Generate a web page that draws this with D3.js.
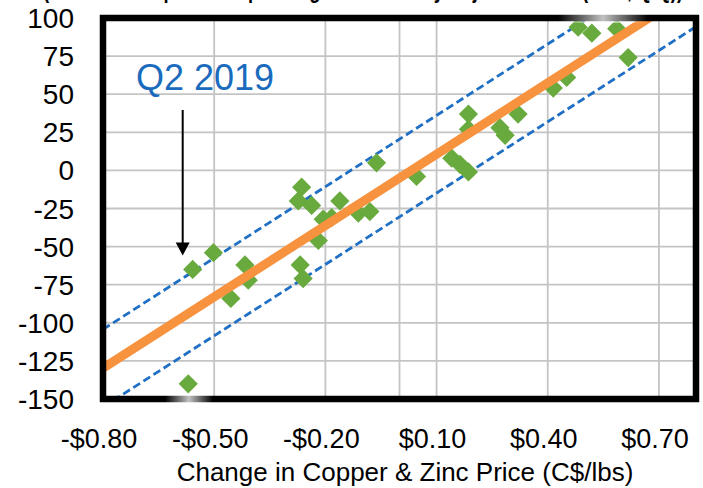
<!DOCTYPE html>
<html><head><meta charset="utf-8">
<script src="https://cdn.jsdelivr.net/npm/d3@7"></script>
<style>
html,body{margin:0;padding:0;background:#fff;}
svg{display:block;font-family:"Liberation Sans",Arial,sans-serif;}
</style></head>
<body>
<svg id="c" width="703" height="488"></svg>
<script>
// ---- data ----
const titleText = "(Estimated Impact on Operating Cash Flow by Adjusted Price (C$M, Q/Q))";
const xLabel = "Change in Copper & Zinc Price (C$/lbs)";
const annotation = "Q2 2019";
const xTicks = [-0.8, -0.5, -0.2, 0.1, 0.4, 0.7];
const yTicks = [-150, -125, -100, -75, -50, -25, 0, 25, 50, 75, 100];
const xGrid = [-0.5, -0.2, 0, 0.1, 0.4, 0.7];
const priceChange = [-0.558, -0.502, -0.417, -0.408, -0.455, -0.570, -0.062, -0.264, -0.273, -0.237,
  -0.161, -0.206, -0.183, -0.111, -0.080, -0.219, -0.268, -0.260, 0.186, 0.186,
  0.271, 0.285, 0.141, 0.163, 0.186, 0.046, 0.320, 0.482, 0.519, 0.586,
  0.617, 0.451, 0.415];
const cashFlowChange = [-65, -54, -62, -72, -84, -140, 5, -11, -20, -23,
  -20, -32, -31, -28, -27, -46, -62, -71, 37, 27,
  28, 23, 8, 4, -1, -4, 37, 94, 90, 93,
  74, 61, 54];
const trendSlope = 156;
const trendIntercept = -5;
const bandOffset = 25.5;
const q2x = -0.558, q2y = -65;

// ---- layout ----
const L = 103, R = 696, T = 18, B = 399;
const svg = d3.select("#c");
const x = d3.scaleLinear().domain([-0.8, 0.8]).range([L, R]);
const y = d3.scaleLinear().domain([-150, 100]).range([B, T]);

const defs = svg.append("defs");
const fade = defs.append("linearGradient").attr("id", "fade");
fade.append("stop").attr("offset", "0%").attr("stop-color", "#fff").attr("stop-opacity", 0);
fade.append("stop").attr("offset", "50%").attr("stop-color", "#fff").attr("stop-opacity", 0.95);
fade.append("stop").attr("offset", "100%").attr("stop-color", "#fff").attr("stop-opacity", 0);

// title (cut off at top, as in the source image)
svg.append("text").attr("x", 43).attr("y", -2).attr("font-weight", "bold")
  .attr("font-size", 24).attr("textLength", 640).attr("lengthAdjust", "spacingAndGlyphs")
  .attr("fill", "#000").text(titleText);

// grid
const g = svg.append("g");
g.selectAll(".gy").data(yTicks.slice(1, -1)).enter().append("line")
  .attr("x1", L).attr("x2", R).attr("y1", d => y(d)).attr("y2", d => y(d))
  .attr("stroke", "#c4c4c4").attr("stroke-width", 1.8);
g.selectAll(".gx").data(xGrid).enter().append("line")
  .attr("y1", T).attr("y2", B).attr("x1", d => x(d)).attr("x2", d => x(d))
  .attr("stroke", "#c4c4c4").attr("stroke-width", 1.8);

// clip
svg.append("clipPath").attr("id", "clip").append("rect")
  .attr("x", L).attr("y", T).attr("width", R - L).attr("height", B - T);
const plot = svg.append("g").attr("clip-path", "url(#clip)");

const lineFn = off => d3.line()
  .x(d => x(d)).y(d => y(trendIntercept + off + trendSlope * d));
const xs = [-0.8, 0.8];

[bandOffset, -bandOffset].forEach(off => {
  plot.append("path").datum(xs).attr("d", lineFn(off))
    .attr("fill", "none").attr("stroke", "#1f6fc5").attr("stroke-width", 2.8)
    .attr("stroke-dasharray", "8,4");
});

// points
plot.selectAll(".pt").data(priceChange.map((d, i) => [d, cashFlowChange[i]]))
  .enter().append("path")
  .attr("transform", d => `translate(${x(d[0])},${y(d[1])}) rotate(45)`)
  .attr("d", d3.symbol().type(d3.symbolSquare).size(185))
  .attr("fill", "#68aa3d");

// trend
plot.append("path").datum(xs).attr("d", lineFn(0))
  .attr("fill", "none").attr("stroke", "#f7923f").attr("stroke-width", 9);

// border
svg.append("rect").attr("x", L).attr("y", T).attr("width", R - L).attr("height", B - T)
  .attr("fill", "none").attr("stroke", "#000").attr("stroke-width", 6.5);
// light fades on the border, as in the source image
svg.append("rect").attr("x", 558).attr("y", 13).attr("width", 90).attr("height", 10)
  .attr("fill", "url(#fade)").attr("opacity", 0.8);
svg.append("rect").attr("x", 165).attr("y", 394).attr("width", 48).attr("height", 10)
  .attr("fill", "url(#fade)").attr("opacity", 0.8);

// y tick labels
svg.selectAll(".yl").data(yTicks).enter().append("text")
  .attr("x", 74).attr("y", d => y(d)).attr("dy", "0.36em")
  .attr("text-anchor", "end").attr("font-size", 28).attr("fill", "#000")
  .text(d => String(d));

// x tick labels
svg.selectAll(".xl").data(xTicks).enter().append("text")
  .attr("x", d => x(d) - 4).attr("y", 448)
  .attr("text-anchor", "middle").attr("font-size", 27).attr("fill", "#000")
  .text(d => (d < 0 ? "-$" : "$") + Math.abs(d).toFixed(2));

// x title
svg.append("text").attr("x", 405).attr("y", 481).attr("text-anchor", "middle")
  .attr("font-size", 26).attr("fill", "#000").text(xLabel);

// annotation
svg.append("text").attr("x", 136).attr("y", 90).attr("font-size", 36)
  .attr("fill", "#1a6bbd").text(annotation);
const ax = x(q2x) - 10, ay = y(q2y) - 14;
svg.append("line").attr("x1", ax).attr("x2", ax)
  .attr("y1", 110).attr("y2", ay - 10).attr("stroke", "#000").attr("stroke-width", 2);
svg.append("path").attr("d", `M${ax - 7},${ay - 13}L${ax + 7},${ay - 13}L${ax},${ay}Z`).attr("fill", "#000");
</script>
</body></html>
